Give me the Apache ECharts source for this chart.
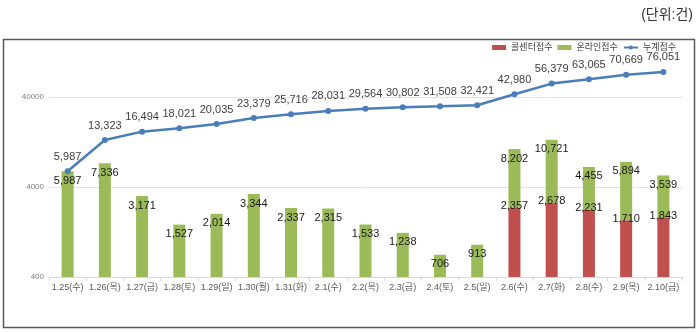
<!DOCTYPE html>
<html><head><meta charset="utf-8">
<script src="https://cdn.jsdelivr.net/npm/echarts@6/dist/echarts.min.js"></script>
<style>html,body{margin:0;padding:0;background:#fff}#c{width:700px;height:332px}</style>
</head><body><div id="c"></div>
<script>
const categories = ['1.25(수)','1.26(목)','1.27(금)','1.28(토)','1.29(일)','1.30(월)','1.31(화)','2.1(수)','2.2(목)','2.3(금)','2.4(토)','2.5(일)','2.6(수)','2.7(화)','2.8(수)','2.9(목)','2.10(금)'];
const callCenter = [null,null,null,null,null,null,null,null,null,null,null,null,2357,2678,2231,1710,1843];
const online = [5987,7336,3171,1527,2014,3344,2337,2315,1533,1238,706,913,8202,10721,4455,5894,3539];
const cumulative = [5987,13323,16494,18021,20035,23379,25716,28031,29564,30802,31508,32421,42980,56379,63065,70669,76051];
const seriesNames = ['콜센터접수','온라인접수','누계접수'];
const unitText = '(단위:건)';

// online values split: stacked on call-center bars where those exist, standalone otherwise
const onlineStacked = online.map((v, i) => callCenter[i] == null ? null : v);
const onlineAlone = online.map((v, i) => callCenter[i] == null ? v : null);

const FONT = "'Liberation Sans','Noto Sans CJK KR',sans-serif";
const fmt = v => (v == null ? '' : Number(v).toLocaleString('en-US'));
const barLabel = {show: true, position: 'insideTop', distance: 4, fontSize: 11, color: '#1a1a1a', formatter: p => fmt(p.value), fontFamily: FONT};

const chart = echarts.init(document.getElementById('c'), null, {renderer:'canvas'});
chart.setOption({
  animation: false,
  backgroundColor: '#fff',
  textStyle: {fontFamily: FONT},
  title: {text: unitText, right: 2, top: 3, textStyle: {fontSize: 14, fontWeight: 'normal', color: '#333', fontFamily: FONT}},
  graphic: [{type:'rect', shape:{x:3.5,y:39.5,width:691,height:288}, style:{fill:'none', stroke:'#595959', lineWidth:1.5}, z:100}],
  legend: {
    right: 19, top: 38, itemWidth: 14, itemHeight: 5, itemGap: 5,
    textStyle: {fontSize: 9, color: '#404040', fontFamily: FONT},
    data: [{name: seriesNames[0], icon:'rect'}, {name: seriesNames[1], icon:'rect'}, {name: seriesNames[2]}]
  },
  grid: {left: 49, right: 18, top: 40, bottom: 55, containLabel: false},
  xAxis: {
    type: 'category', data: categories, boundaryGap: true,
    axisLine: {lineStyle: {color: '#d9d9d9'}},
    axisTick: {show: true, length: 4, lineStyle: {color: '#d9d9d9'}},
    axisLabel: {interval: 0, fontSize: 9, color: '#595959', margin: 6, fontFamily: FONT}
  },
  yAxis: {
    type: 'log', logBase: 10, min: 400, max: 172000, interval: 1,
    axisLine: {show: false}, axisTick: {show: false},
    axisLabel: {fontSize: 8, color: '#808080', margin: 5,
      formatter: v => (v > 100000 ? '' : String(Number(Number(v).toPrecision(1)))), fontFamily: FONT},
    splitLine: {showMaxLine: false, lineStyle: {color: '#e3e3e3', width: 1}}
  },
  series: [
    {
      name: seriesNames[0], type: 'bar', stack: 'total', data: callCenter, barWidth: 12, barGap: '-100%',
      itemStyle: {color: '#C0504D'},
      label: {show: true, position: 'top', distance: -4, fontSize: 11, color: '#1a1a1a', formatter: p => fmt(p.value), fontFamily: FONT}
    },
    {
      name: seriesNames[1], type: 'bar', stack: 'total', data: onlineStacked, barWidth: 12, barGap: '-100%',
      itemStyle: {color: '#9BBB59'}, label: barLabel
    },
    {
      name: seriesNames[1], type: 'bar', data: onlineAlone, barWidth: 12, barGap: '-100%',
      itemStyle: {color: '#9BBB59'}, label: barLabel
    },
    {
      name: seriesNames[2], type: 'line', data: cumulative, symbol: 'circle', symbolSize: 6,
      lineStyle: {color: '#4A7EBB', width: 2.5}, itemStyle: {color: '#4A7EBB'},
      label: {show: true, position: 'top', distance: 6, fontSize: 11, color: '#404040', formatter: p => fmt(p.value), fontFamily: FONT},
      z: 5
    }
  ]
});
</script></body></html>
